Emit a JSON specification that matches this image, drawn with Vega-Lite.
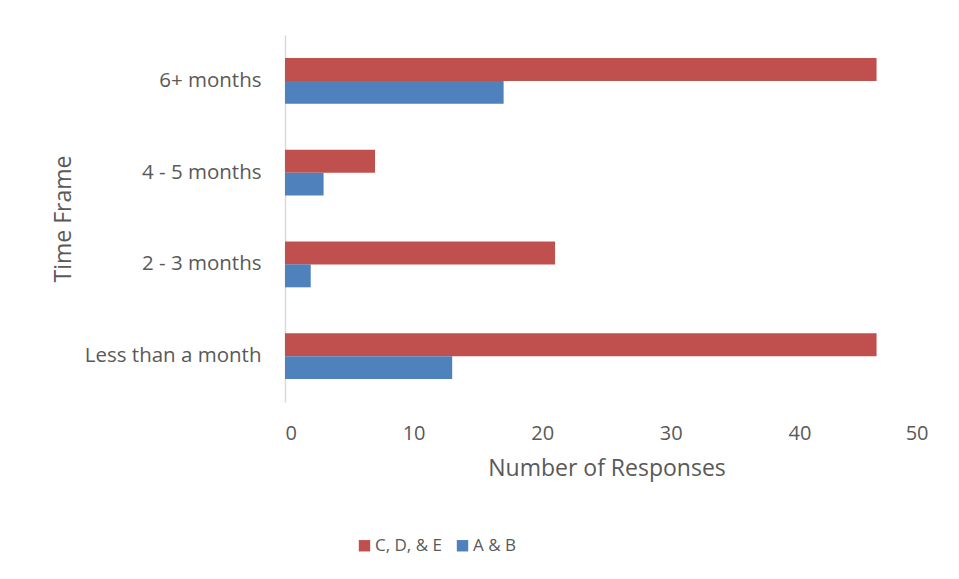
{
  "$schema": "https://vega.github.io/schema/vega-lite/v6.json",
  "width": 643,
  "height": 367,
  "autosize": {"type": "none"},
  "padding": {"left": 285, "top": 35, "right": 31, "bottom": 177},
  "background": "white",
  "config": {
    "view": {"stroke": null},
    "font": "Open Sans"
  },
  "data": {
    "values": [
      {"frame": "6+ months", "group": "C, D, & E", "count": 46},
      {"frame": "6+ months", "group": "A & B", "count": 17},
      {"frame": "4 - 5 months", "group": "C, D, & E", "count": 7},
      {"frame": "4 - 5 months", "group": "A & B", "count": 3},
      {"frame": "2 - 3 months", "group": "C, D, & E", "count": 21},
      {"frame": "2 - 3 months", "group": "A & B", "count": 2},
      {"frame": "Less than a month", "group": "C, D, & E", "count": 46},
      {"frame": "Less than a month", "group": "A & B", "count": 13}
    ]
  },
  "mark": {"type": "bar"},
  "encoding": {
    "y": {
      "field": "frame",
      "type": "nominal",
      "sort": ["6+ months", "4 - 5 months", "2 - 3 months", "Less than a month"],
      "scale": {"paddingInner": 0.5, "paddingOuter": 0.25},
      "axis": {
        "title": "Time Frame",
        "titleFontSize": 23,
        "titleFontWeight": "normal",
        "titleColor": "#595959",
        "titlePadding": 10,
        "labelFontSize": 20.5,
        "labelColor": "#595959",
        "labelPadding": 24,
        "ticks": false,
        "domainColor": "#D9D9D9",
        "domainWidth": 1.5
      }
    },
    "yOffset": {
      "field": "group",
      "type": "nominal",
      "sort": ["C, D, & E", "A & B"],
      "scale": {"paddingInner": 0, "paddingOuter": 0}
    },
    "x": {
      "field": "count",
      "type": "quantitative",
      "scale": {"domain": [0, 50]},
      "axis": {
        "title": "Number of Responses",
        "titleFontSize": 23,
        "titleFontWeight": "normal",
        "titleColor": "#595959",
        "titlePadding": 14,
        "labelFontSize": 20,
        "labelColor": "#595959",
        "labelPadding": 21,
        "values": [0, 10, 20, 30, 40, 50],
        "ticks": false,
        "domain": false,
        "grid": false
      }
    },
    "color": {
      "field": "group",
      "type": "nominal",
      "scale": {"domain": ["C, D, & E", "A & B"], "range": ["#C0504D", "#4F81BD"]},
      "legend": {
        "title": null,
        "orient": "none",
        "direction": "horizontal",
        "legendX": 71,
        "legendY": 502,
        "symbolType": "square",
        "symbolSize": 130,
        "symbolStrokeWidth": 0,
        "symbolOpacity": 1,
        "labelFontSize": 17,
        "labelColor": "#595959",
        "labelOffset": 2,
        "columnPadding": 12
      }
    }
  }
}
